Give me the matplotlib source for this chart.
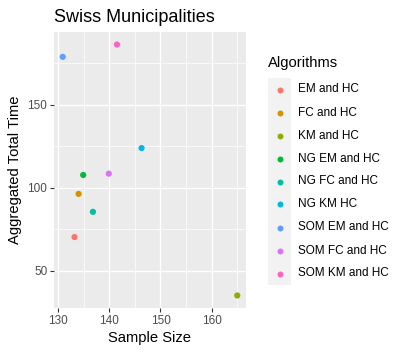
import matplotlib.pyplot as plt
from matplotlib.patches import Rectangle

plt.rcParams['font.family'] = ['Liberation Sans', 'DejaVu Sans']

# Data
algorithms = ['EM and HC', 'FC and HC', 'KM and HC', 'NG EM and HC', 'NG FC and HC',
              'NG KM HC', 'SOM EM and HC', 'SOM FC and HC', 'SOM KM and HC']
sample_size = [133.2, 134.0, 165.0, 134.9, 136.8, 146.3, 130.9, 139.9, 141.5]
total_time = [70.4, 96.4, 35.2, 107.8, 85.6, 124.0, 179.0, 108.6, 186.4]
colors = ['#F8766D', '#D39200', '#93AA00', '#00BA38', '#00C19F',
          '#00B9E3', '#619CFF', '#DB72FB', '#FF61C3']

fig = plt.figure(figsize=(4.04, 3.53), dpi=100)
ax = fig.add_axes([54 / 404, 45 / 353, 192 / 404, 276 / 353])
ax.set_facecolor('#EBEBEB')

for x, y, c in zip(sample_size, total_time, colors):
    ax.scatter(x, y, s=20, color=c, edgecolors='none', zorder=3)

xr = max(sample_size) - min(sample_size)
yr = max(total_time) - min(total_time)
ax.set_xlim(min(sample_size) - 0.05 * xr, max(sample_size) + 0.05 * xr)
ax.set_ylim(min(total_time) - 0.05 * yr, max(total_time) + 0.05 * yr)

ax.set_xticks([130, 140, 150, 160])
ax.set_yticks([50, 100, 150])
ax.set_xticks([135, 145, 155, 165], minor=True)
ax.set_yticks([75, 125, 175], minor=True)
ax.grid(which='major', color='white', linewidth=1.0)
ax.grid(which='minor', color='white', linewidth=0.5)
ax.set_axisbelow(True)
for s in ax.spines.values():
    s.set_visible(False)
ax.tick_params(which='major', length=2.75, width=0.8, color='#333333',
               labelsize=8.5, labelcolor='#4D4D4D', pad=2)
ax.tick_params(which='minor', length=0)

ax.set_xlabel('Sample Size', fontsize=10.6, labelpad=3)
ax.set_ylabel('Aggregated Total Time', fontsize=10.6, labelpad=4)
fig.text(54 / 404, 1 - 22 / 353, 'Swiss Municipalities', fontsize=13, ha='left', va='baseline')

# legend
fig.text(268 / 404, 1 - 63 / 353, 'Algorithms', fontsize=10.6, ha='left', va='center')
fig.patches.append(Rectangle((268 / 404, 1 - 285 / 353), 23 / 404, 207 / 353,
                             transform=fig.transFigure, facecolor='#F2F2F2', edgecolor='none'))
for i, (name, c) in enumerate(zip(algorithms, colors)):
    yy = 1 - (89.5 + 23 * i) / 353
    fig.add_artist(plt.Line2D([279.5 / 404], [yy], marker='o', markersize=4.3, color=c,
                              markeredgewidth=0, transform=fig.transFigure))
    fig.text(298 / 404, yy, name, fontsize=8.5, ha='left', va='center')

fig.savefig('out.png', dpi=100)
